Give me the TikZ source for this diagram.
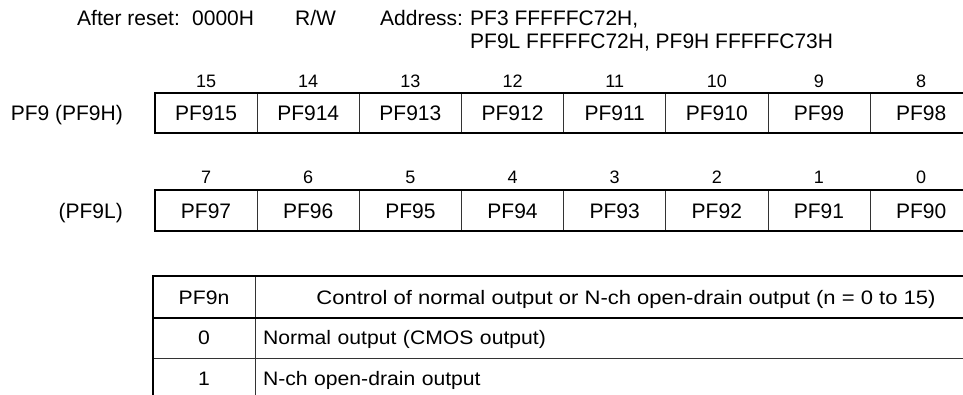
\documentclass[tikz,border=0pt]{standalone}
\usepackage{fontspec}
\setmainfont{Liberation Sans}
\newfontfamily\tabfont[FakeStretch=1.085]{Liberation Sans}
\newfontfamily\tabfontw[FakeStretch=1.13]{Liberation Sans}
\begin{document}
\begin{tikzpicture}[x=1pt,y=-1pt,
  txt/.style={inner sep=0pt, font=\fontsize{21}{25}\selectfont},
  bitno/.style={inner sep=0pt, font=\fontsize{18}{21}\selectfont, anchor=base},
  regcell/.style={draw=black!80, line width=0.8pt, minimum width=102.15pt, minimum height=39.4pt,
     inner sep=0pt, text height=15pt, text depth=0pt, font=\fontsize{21}{25}\selectfont},
  frame/.style={line width=2pt, line cap=rect},
  tcell/.style={draw=black!80, line width=0.8pt, inner sep=0pt, text height=14pt, text depth=0pt,
     font=\tabfont\fontsize{19.5}{23}\selectfont}
]
\clip (0,0) rectangle (963,394);
\useasboundingbox (0,0) rectangle (963,394);
% header
\node[txt, anchor=base west] (hreset) at (77,25) {After reset:};
\node[txt, anchor=base west] (hval) at (192,25) {0000H};
\node[txt, anchor=base west] (hrw) at (295,25) {R/W};
\node[txt, anchor=base west] (haddr) at (380,25) {Address:};
\node[txt, anchor=base west] (ha1) at (470,25) {PF3 FFFFFC72H,};
\node[txt, anchor=base west] (ha2) at (470,48.5) {PF9L FFFFFC72H, PF9H FFFFFC73H};
% row 1
\foreach \i/\t/\b in {0/PF915/15,1/PF914/14,2/PF913/13,3/PF912/12,4/PF911/11,5/PF910/10,6/PF99/9,7/PF98/8}{
  \node[regcell] (a\i) at ({155+102.15*\i+51.075},113) {\t};
  \node[bitno] (ba\i) at ({155+102.15*\i+51.075},87.5) {\b};
}
\draw[frame] (a0.north west) rectangle (a7.south east);
\node[txt, anchor=base east] (lab1) at (123,120.5) {PF9 (PF9H)};
% row 2
\foreach \i/\t/\b in {0/PF97/7,1/PF96/6,2/PF95/5,3/PF94/4,4/PF93/3,5/PF92/2,6/PF91/1,7/PF90/0}{
  \node[regcell] (c\i) at ({155+102.15*\i+51.075},210.5) {\t};
  \node[bitno] (bc\i) at ({155+102.15*\i+51.075},183) {\b};
}
\draw[frame] (c0.north west) rectangle (c7.south east);
\node[txt, anchor=base east] (lab2) at (123,218) {(PF9L)};
% table
\node[tcell, minimum width=102pt, minimum height=40.5pt] (t00) at (204,297) {PF9n};
\node[tcell, minimum width=742pt, minimum height=40.5pt, font=\tabfontw\fontsize{19.5}{23}\selectfont] (t01) at (626,297) {Control of normal output or N-ch open-drain output (n = 0 to 15)};
\node[tcell, minimum width=102pt, minimum height=41pt] (t10) at (204,337.75) {0};
\node[tcell, minimum width=742pt, minimum height=41pt, text width=726pt, align=left, inner xsep=8pt] (t11) at (626,337.75) {Normal output (CMOS output)};
\node[tcell, minimum width=102pt, minimum height=41pt] (t20) at (204,378.75) {1};
\node[tcell, minimum width=742pt, minimum height=41pt, text width=726pt, align=left, inner xsep=8pt] (t21) at (626,378.75) {N-ch open-drain output};
\draw[frame] (t20.south west) -- (t00.north west) -- (t01.north east);
\draw[frame] (t00.south west) -- (t01.south east);
\end{tikzpicture}
\end{document}
